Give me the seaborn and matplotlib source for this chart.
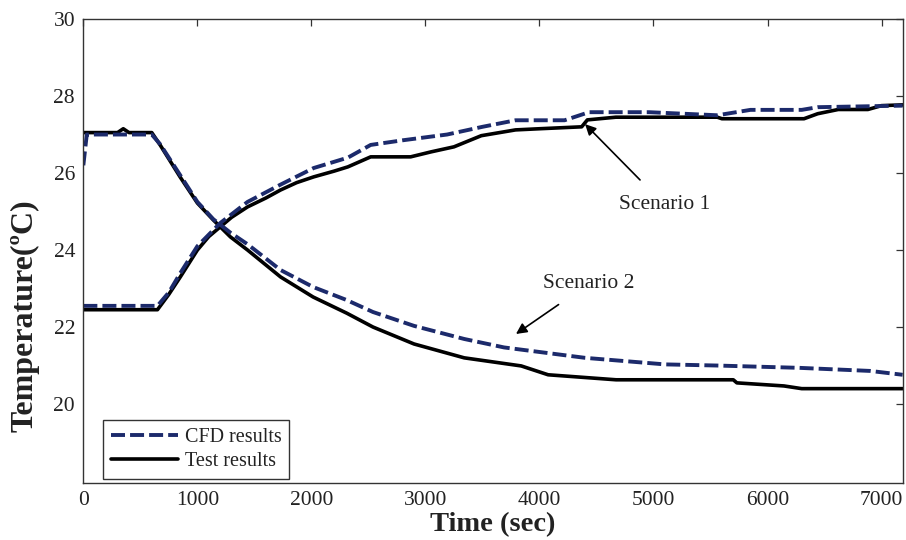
import matplotlib
matplotlib.use("Agg")
import matplotlib.pyplot as plt
import seaborn as sns
import pandas as pd
from matplotlib.lines import Line2D

# ---------------- data ----------------
s1_test_t = [0, 650, 750, 850, 1000, 1100, 1200, 1300, 1440, 1600, 1730, 1870, 2020, 2200, 2320, 2520,
             2870, 3050, 3250, 3490, 3790, 4000, 4370, 4420, 4670, 5560, 5600, 6320, 6440, 6620, 6880, 7000, 7185]
s1_test_y = [22.45, 22.45, 22.85, 23.3, 24.0, 24.35, 24.6, 24.85, 25.12, 25.35, 25.56, 25.75, 25.9, 26.05, 26.16, 26.42,
             26.42, 26.55, 26.68, 26.97, 27.12, 27.15, 27.2, 27.38, 27.45, 27.45, 27.41, 27.41, 27.54, 27.65, 27.65, 27.75, 27.77]

s1_cfd_t = [0, 650, 750, 850, 1000, 1200, 1440, 1730, 2020, 2320, 2520, 2800, 3190, 3500, 3790, 4220,
            4435, 4960, 5560, 5850, 6300, 6440, 7185]
s1_cfd_y = [22.55, 22.55, 22.9, 23.4, 24.1, 24.7, 25.25, 25.7, 26.13, 26.4, 26.73, 26.85, 27.0, 27.2, 27.37, 27.37,
            27.58, 27.58, 27.5, 27.64, 27.64, 27.71, 27.75]

s2_test_t = [0, 300, 350, 400, 600, 673, 848, 1000, 1140, 1290, 1440, 1730, 2015, 2310, 2540, 2900, 3340,
             3840, 4076, 4672, 5700, 5731, 6144, 6300, 7185]
s2_test_y = [27.05, 27.05, 27.15, 27.05, 27.05, 26.73, 25.9, 25.22, 24.78, 24.34, 24.0, 23.3, 22.78, 22.36, 22.0, 21.56, 21.2,
             20.99, 20.76, 20.63, 20.63, 20.55, 20.47, 20.4, 20.4]

s2_cfd_t = [0, 30, 600, 673, 848, 1000, 1140, 1290, 1440, 1730, 2015, 2310, 2540, 2900, 3340, 3690,
            4400, 5100, 5560, 6280, 6900, 7185]
s2_cfd_y = [26.2, 27.0, 27.0, 26.75, 25.95, 25.25, 24.8, 24.45, 24.15, 23.48, 23.04, 22.7, 22.39, 22.03, 21.69, 21.47,
            21.2, 21.03, 21.0, 20.94, 20.86, 20.76]

x_ticks = [0, 1000, 2000, 3000, 4000, 5000, 6000, 7000]
y_ticks = [20, 22, 24, 26, 28, 30]

series_names = ["CFD results", "Test results"]
annot_text = ["Scenario 1", "Scenario 2"]

# ---------------- style ----------------
sns.set_style("white")
plt.rcParams['font.family'] = ['Liberation Serif', 'DejaVu Serif']

CFD_COLOR = "#1c2a6b"
TEST_COLOR = "#000000"
TXT = "#222222"

fig = plt.figure(figsize=(9.06, 5.40), dpi=100)
ax = fig.add_axes([0.092, 0.1056, 0.9043, 0.8592])

dash = (0, (3.6, 1.3))
for t, y in [(s1_test_t, s1_test_y), (s2_test_t, s2_test_y)]:
    sns.lineplot(x=t, y=y, ax=ax, color=TEST_COLOR, linewidth=2.6, sort=False, estimator=None)
for t, y in [(s1_cfd_t, s1_cfd_y), (s2_cfd_t, s2_cfd_y)]:
    sns.lineplot(x=t, y=y, ax=ax, color=CFD_COLOR, linewidth=2.8, linestyle=dash, sort=False, estimator=None)

ax.set_xlim(0, 7185)
ax.set_ylim(17.95, 30)
ax.set_xticks(x_ticks)
ax.set_yticks(y_ticks)
ax.set_xticklabels([str(v) for v in x_ticks])
ax.set_yticklabels([str(v) for v in y_ticks])
ax.tick_params(direction='in', length=5, width=0.9, top=True, right=True,
               labelsize=15.5, colors="#333333", labelcolor=TXT, pad=6)
for s in ax.spines.values():
    s.set_color("#333333")
    s.set_linewidth(1.0)

ax.set_xlabel("Time (sec)", fontsize=20.5, fontweight='bold', color=TXT)
ax.xaxis.set_label_coords(0.5, -0.062)
ax.xaxis.label.set_va('top')
ax.set_ylabel("Temperature(ºC)", fontsize=23, fontweight='bold', color=TXT)
ax.yaxis.set_label_coords(-0.053, 0.36)

# annotations
ax.annotate(annot_text[0], xy=(4400, 27.27), xytext=(5095, 25.18), ha='center', va='center',
            fontsize=15.5, color=TXT,
            arrowprops=dict(arrowstyle='-|>', color='black', lw=1.2, mutation_scale=16,
                            shrinkA=12, shrinkB=0))
ax.annotate(annot_text[1], xy=(3794, 21.82), xytext=(4430, 23.12), ha='center', va='center',
            fontsize=15.5, color=TXT,
            arrowprops=dict(arrowstyle='-|>', color='black', lw=1.2, mutation_scale=16,
                            shrinkA=10, shrinkB=0))

handles = [Line2D([], [], color=CFD_COLOR, lw=2.8, linestyle=dash),
           Line2D([], [], color=TEST_COLOR, lw=2.6)]
leg = ax.legend(handles, series_names, loc='lower left', bbox_to_anchor=(0.024, 0.008),
                fontsize=14.5, handlelength=3.3, handletextpad=0.35, borderpad=0.4,
                labelspacing=0.25, frameon=True, fancybox=False, framealpha=1,
                borderaxespad=0.0)
leg.get_frame().set_edgecolor("#333333")
leg.get_frame().set_linewidth(1.0)
for txt in leg.get_texts():
    txt.set_color(TXT)

fig.savefig("out.png", dpi=100)
